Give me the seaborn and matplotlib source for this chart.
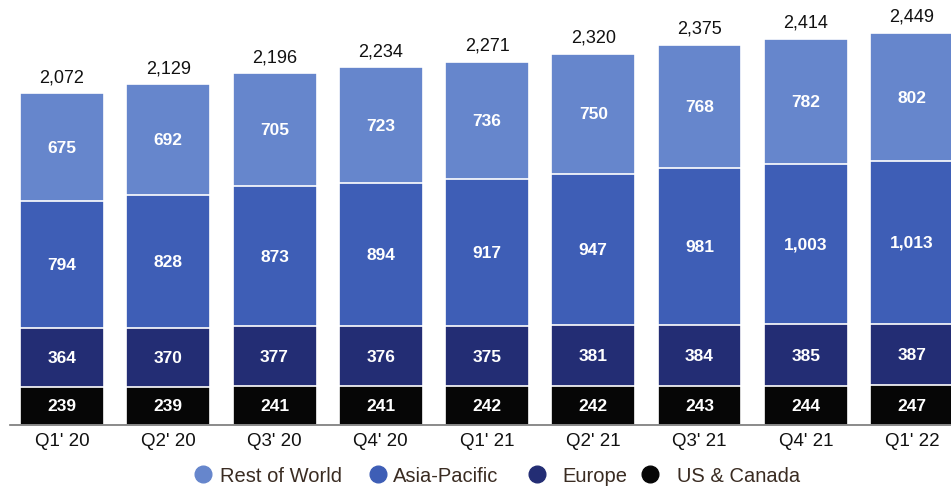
import numpy as np
import pandas as pd
import matplotlib
matplotlib.use("Agg")
import matplotlib.pyplot as plt
from matplotlib.lines import Line2D
import seaborn as sns

quarters = ["Q1' 20", "Q2' 20", "Q3' 20", "Q4' 20", "Q1' 21", "Q2' 21", "Q3' 21", "Q4' 21", "Q1' 22"]
us_canada = [239, 239, 241, 241, 242, 242, 243, 244, 247]
europe = [364, 370, 377, 376, 375, 381, 384, 385, 387]
asia_pacific = [794, 828, 873, 894, 917, 947, 981, 1003, 1013]
rest_of_world = [675, 692, 705, 723, 736, 750, 768, 782, 802]
totals = [2072, 2129, 2196, 2234, 2271, 2320, 2375, 2414, 2449]

series_names = ["US & Canada", "Europe", "Asia-Pacific", "Rest of World"]
series_vals = [us_canada, europe, asia_pacific, rest_of_world]
colors = {"Rest of World": "#6686CC", "Asia-Pacific": "#3E5EB6",
          "Europe": "#232D74", "US & Canada": "#060606"}
legend_order = ["Rest of World", "Asia-Pacific", "Europe", "US & Canada"]

sns.set_theme(style="white")
plt.rcParams['font.family'] = ['Liberation Sans', 'DejaVu Sans']

fig = plt.figure(figsize=(9.51, 4.89), dpi=100)
ax = fig.add_axes([0.0105, 0.1288, 0.9895, 0.8712])

cum = np.cumsum(np.array(series_vals, dtype=float), axis=0)
# draw from top layer down so each cumulative bar overlays the previous
for i in range(len(series_names) - 1, -1, -1):
    df = pd.DataFrame({"q": quarters, "v": cum[i]})
    sns.barplot(data=df, x="q", y="v", color=colors[series_names[i]],
                saturation=1, width=0.79, edgecolor="white", linewidth=1.2,
                ax=ax, order=quarters)

# segment labels
for i, name in enumerate(series_names):
    for j, q in enumerate(quarters):
        base = cum[i - 1][j] if i > 0 else 0
        mid = base + series_vals[i][j] / 2
        ax.text(j, mid, f"{series_vals[i][j]:,}", ha="center", va="center",
                color="white", fontsize=12.5, fontweight="bold")

# total labels
for j, t in enumerate(totals):
    ax.text(j, t + 50, f"{t:,}", ha="center", va="bottom",
            color="#111111", fontsize=13)

ax.set_xlim(-0.49, 8.367)
ax.set_ylim(0, 2661)
ax.set_xlabel("")
ax.set_ylabel("")
ax.set_yticks([])
for s in ["top", "right", "left"]:
    ax.spines[s].set_visible(False)
ax.spines["bottom"].set_color("#777777")
ax.spines["bottom"].set_linewidth(1.2)
ax.tick_params(axis="x", length=0, pad=5, labelsize=13.5, labelcolor="#111111")

# legend: one entry per legend box to reproduce the uneven spacing
leg_x = [193 / 951, 368 / 951, 527 / 951, 640 / 951]
leg_pad = [0.35, 0.25, 0.75, 0.85]
for name, x0, pad in zip(legend_order, leg_x, leg_pad):
    h = Line2D([0], [0], marker="o", linestyle="", markersize=12,
               markerfacecolor=colors[name], markeredgecolor=colors[name])
    leg = fig.legend([h], [name], loc="center left", bbox_to_anchor=(x0, 0.026),
                     frameon=False, fontsize=14.5, handlelength=1.0,
                     handletextpad=pad, borderpad=0, borderaxespad=0)
    for t in leg.get_texts():
        t.set_color("#3a2c22")

fig.savefig("out.png", dpi=100)
